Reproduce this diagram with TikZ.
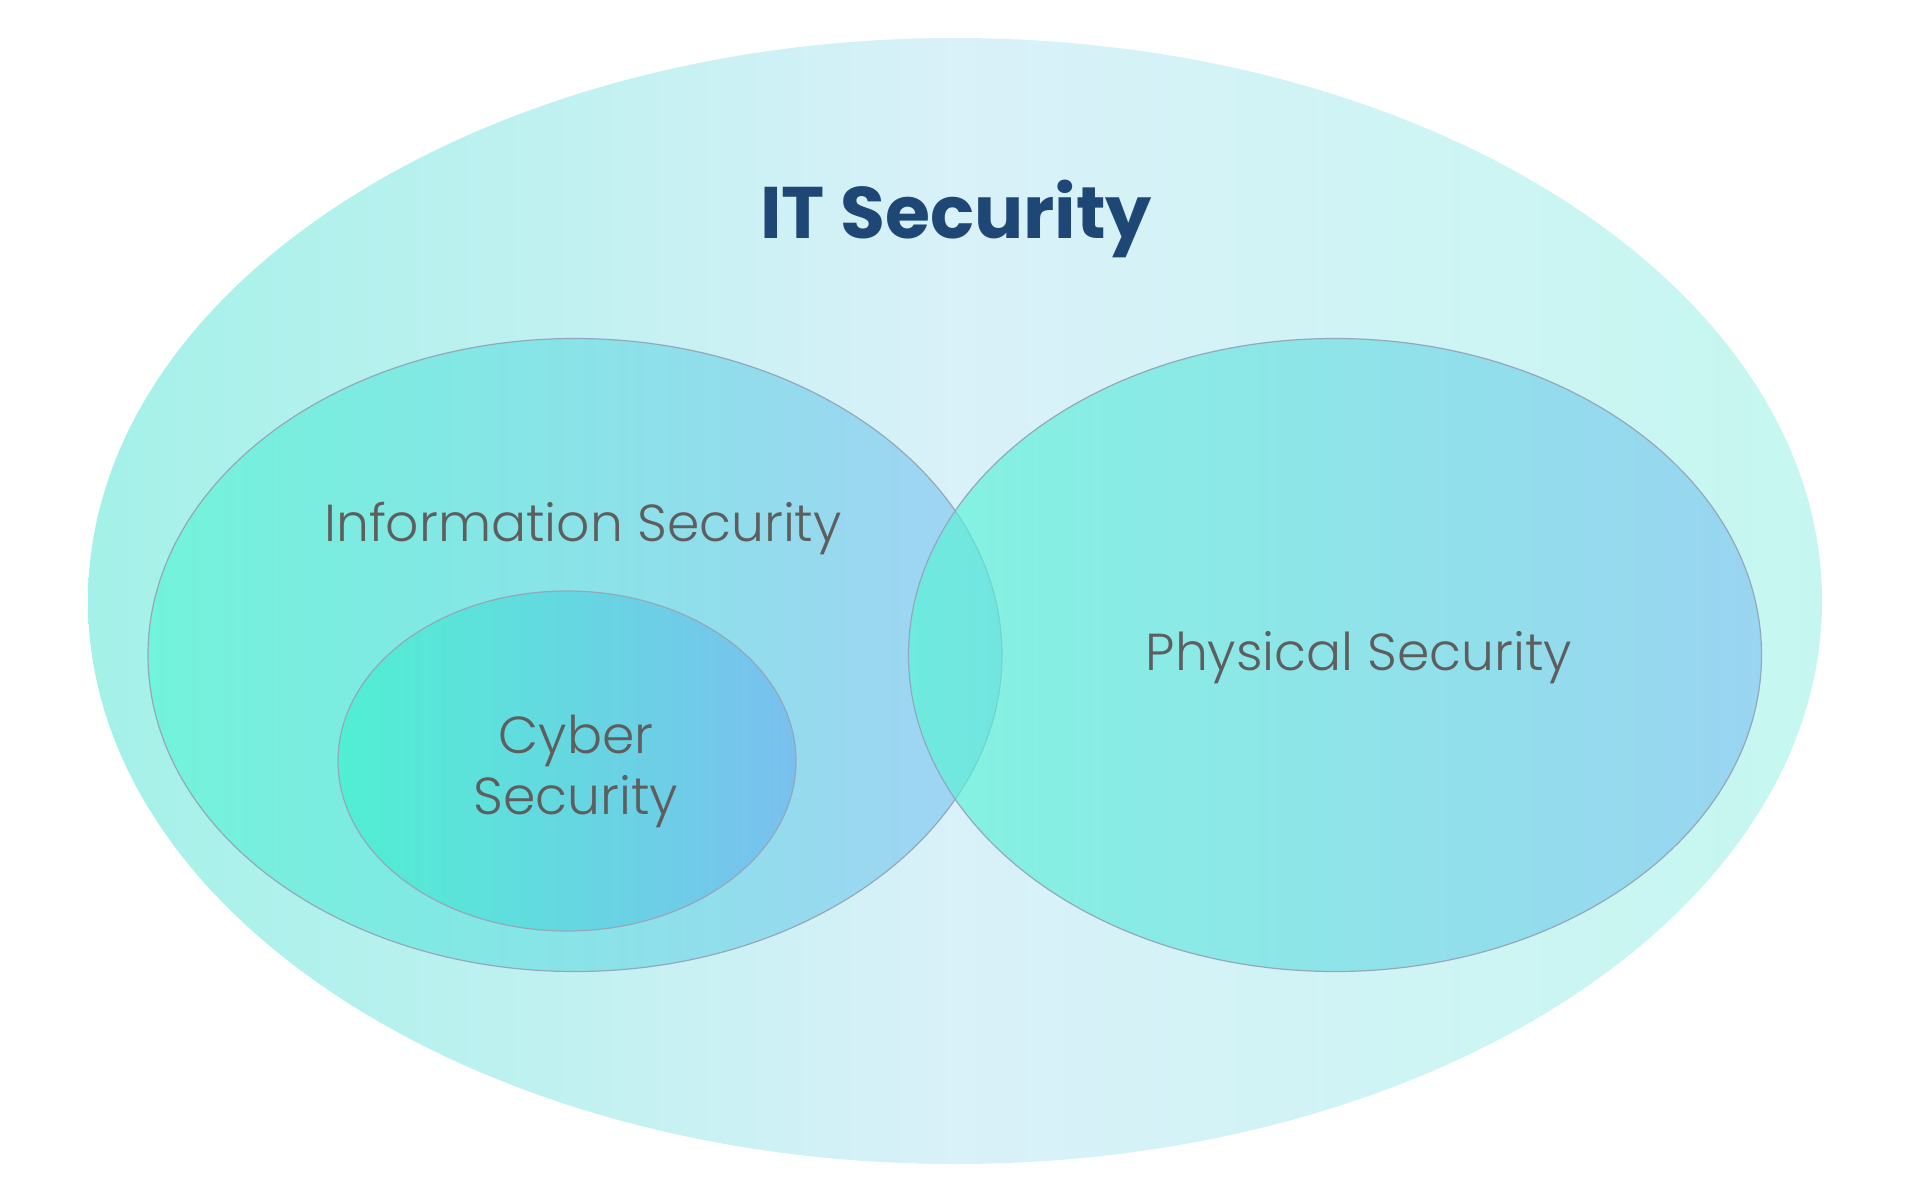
\documentclass[tikz,border=0pt]{standalone}
\usepackage{fontspec}
\setmainfont{Poppins}
\newfontfamily\lightfont{Poppins Light}
\usetikzlibrary{shapes.geometric}
\definecolor{txt}{HTML}{5E5E5E}
\definecolor{ttl}{HTML}{1F4775}
\definecolor{outL}{HTML}{A3F1E8}
\definecolor{outM}{HTML}{D9F1F9}
\definecolor{outR}{HTML}{C5F7F0}
\definecolor{setL}{RGB}{86,245,212}
\definecolor{setR}{RGB}{130,195,242}
\definecolor{cybL}{RGB}{58,242,204}
\definecolor{cybR}{RGB}{107,178,240}
\definecolor{rim}{HTML}{93A9BA}
\tikzset{
  setshape/.style={ellipse, inner sep=0pt, draw=rim, line width=1.2pt, fill opacity=0.65,
    left color=setL, right color=setR},
  cybshape/.style={ellipse, inner sep=0pt, draw=rim, line width=1.2pt, fill opacity=0.65,
    left color=cybL, right color=cybR},
  label/.style={text=txt, font=\lightfont\fontsize{52}{61}\selectfont, anchor=base, inner sep=0pt},
  titlelabel/.style={text=ttl, font=\fontsize{73}{80}\selectfont\bfseries, anchor=base, inner sep=0pt}
}
\begin{document}
\begin{tikzpicture}[x=1pt,y=-1pt]
\useasboundingbox (0,0) rectangle (1909,1204);
\node[ellipse, inner sep=0pt, minimum width=1734pt, minimum height=1126pt,
  left color=outL, right color=outR, middle color=outM] (it) at (955,601) {};
\node[setshape, minimum width=854pt, minimum height=633pt] (info) at (575,655) {};
\node[cybshape, minimum width=458pt, minimum height=340pt] (cyber) at (567,761) {};
\node[setshape, minimum width=853pt, minimum height=633pt] (phys) at (1335,655) {};
\node[titlelabel] (ttext) at (956,238) {IT Security};
\node[label] (itext) at (583,541) {Information Security};
\node[label] (ptext) at (1359,670) {Physical Security};
\node[label] (ctext1) at (576,753) {Cyber};
\node[label] (ctext2) at (576,814) {Security};
\end{tikzpicture}
\end{document}
